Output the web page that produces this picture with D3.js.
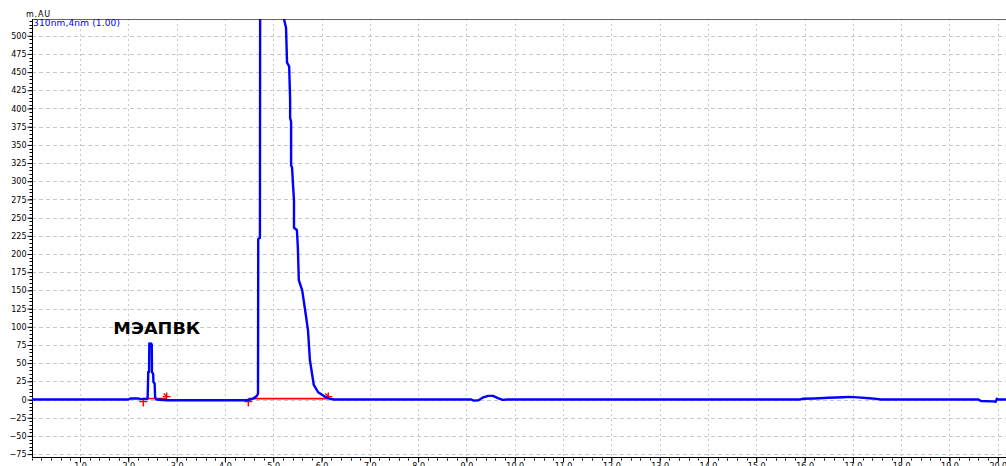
<!DOCTYPE html>
<html>
<head>
<meta charset="utf-8">
<script src="https://d3js.org/d3.v7.min.js"></script>
<style>
  body { margin: 0; background: #fff; }
  svg { display: block; }
  text { font-family: "DejaVu Sans", sans-serif; }
</style>
</head>
<body>
<svg id="chart" width="1006" height="466"></svg>
<script>
// chromatogram: time in min, signal in mAU
var retTime = [
  0.00, 2.00, 2.05, 2.20, 2.25, 2.40,
  2.413, 2.43, 2.435, 2.455, 2.47, 2.485, 2.49, 2.515, 2.52, 2.545, 2.555, 2.58,
  2.80, 4.45, 4.52, 4.59, 4.66, 4.685, 4.69, 4.725, 4.73, 4.76, 5.10, 5.20,
  5.223, 5.265, 5.286, 5.33, 5.35, 5.35, 5.37, 5.37, 5.39, 5.41,
  5.43, 5.43, 5.49, 5.51, 5.53, 5.60, 5.66, 5.72, 5.76, 5.84,
  5.93, 6.09, 6.18, 6.25,
  9.10, 9.15, 9.25, 9.35, 9.45, 9.55, 9.65, 9.75, 9.85,
  15.90, 15.96, 16.20, 16.50, 16.80, 16.92, 17.10, 17.40, 17.58,
  19.60, 19.65, 19.90, 19.96, 19.98, 20.02, 20.17
];
var signal = [
  0, 0, 1.5, 1.5, 0.5, 1,
  38, 38, 77, 72, 77, 76, 38, 35, 24, 22, 3, 0,
  -1, -1, 0, 1.5, 4.8, 8, 221, 222, 600, 900, 950, 600,
  523, 511, 463, 458, 412, 387, 382, 322, 319, 295,
  274, 236, 233, 209, 164, 150, 123, 95, 54, 20,
  10, 3, 1, 0,
  0, -1.5, -1, 3, 5, 5, 2, -0.5, 0,
  0, 1, 1.5, 2.5, 3.2, 3.6, 3, 1.5, 0,
  0, -2, -2.5, -3, 1, 0, 0
];

// integration baselines (red)
var integStart = [2.31, 4.485];
var integEnd = [2.795, 6.14];
var integLevel = 1.3;

var xTickValues = [1, 2, 3, 4, 5, 6, 7, 8, 9, 10, 11, 12, 13, 14, 15, 16, 17, 18, 19, 20];
var yTickValues = [-75, -50, -25, 0, 25, 50, 75, 100, 125, 150, 175, 200, 225, 250, 275, 300, 325, 350, 375, 400, 425, 450, 475, 500];

var peakName = "МЭАПВК";
var peakNameTime = 1.69;
var peakNameValue = 90;
var unitLabel = "m.AU";
var channelLabel = "310nm,4nm (1.00)";

var svg = d3.select("#chart");
var plotLeft = 32, plotRight = 1006, plotTop = 19, plotBottom = 457;

var x = d3.scaleLinear().domain([0, 20.17]).range([31.7, plotRight]);
var y = d3.scaleLinear().domain([-79, 523]).range([plotBottom, plotTop]);

svg.append("defs").append("clipPath").attr("id", "plot")
  .append("rect")
  .attr("x", plotLeft).attr("y", plotTop)
  .attr("width", plotRight - plotLeft).attr("height", plotBottom - plotTop);

//grid
var grid = svg.append("g").attr("stroke", "#c8c8c8").attr("stroke-width", 1);
grid.selectAll("line.h")
  .data(yTickValues)
  .enter().append("line")
  .attr("class", "h")
  .attr("x1", plotLeft).attr("x2", plotRight)
  .attr("y1", function(d){return Math.round(y(d)) + 0.5;})
  .attr("y2", function(d){return Math.round(y(d)) + 0.5;})
  .attr("stroke-dasharray", "4,3");
grid.selectAll("line.v")
  .data(xTickValues)
  .enter().append("line")
  .attr("class", "v")
  .attr("x1", function(d){return Math.round(x(d)) + 0.5;})
  .attr("x2", function(d){return Math.round(x(d)) + 0.5;})
  .attr("y1", plotTop).attr("y2", plotBottom)
  .attr("stroke-dasharray", "2,3");

//top frame
svg.append("line")
  .attr("x1", plotLeft).attr("x2", plotRight)
  .attr("y1", plotTop + 0.5).attr("y2", plotTop + 0.5)
  .attr("stroke", "#666");

//left axis with minor ticks every 5
var yMinor = d3.range(-75, 521, 5);
var yAxis = svg.append("g").attr("transform", "translate(" + (plotLeft + 0.5) + ",0)");
yAxis.selectAll("line.minor")
  .data(yMinor)
  .enter().append("line")
  .attr("x1", -3).attr("x2", 0)
  .attr("y1", function(d){return Math.round(y(d)) + 0.5;})
  .attr("y2", function(d){return Math.round(y(d)) + 0.5;})
  .attr("stroke", "#000");
yAxis.call(d3.axisLeft(y).tickValues(yTickValues).tickSize(5).tickPadding(1).tickFormat(d3.format("d")));
yAxis.select(".domain").attr("d", "M0," + plotTop + "V" + plotBottom);
yAxis.selectAll(".tick text").attr("font-size", 8).attr("font-family", "DejaVu Sans").attr("fill", "#000");

//bottom axis with minor ticks every 0.2
var xMinor = d3.range(0, 20.2, 0.2);
var xAxis = svg.append("g").attr("transform", "translate(0," + (plotBottom + 0.5) + ")");
xAxis.selectAll("line.minor")
  .data(xMinor)
  .enter().append("line")
  .attr("x1", function(d){return Math.round(x(d)) + 0.5;})
  .attr("x2", function(d){return Math.round(x(d)) + 0.5;})
  .attr("y1", 1).attr("y2", 3)
  .attr("stroke", "#000");
xAxis.call(d3.axisBottom(x).tickValues(xTickValues).tickSize(5).tickPadding(1).tickFormat(d3.format(".1f")));
xAxis.select(".domain").attr("d", "M" + plotLeft + ",0H" + plotRight);
xAxis.selectAll(".tick text").attr("font-size", 8).attr("font-family", "DejaVu Sans").attr("fill", "#000");

//integration baselines and markers
var integ = svg.append("g").attr("stroke", "#ff0000").attr("fill", "none");
integ.selectAll("line")
  .data(integStart)
  .enter().append("line")
  .attr("x1", function(d){return x(d);})
  .attr("x2", function(d, i){return x(integEnd[i]);})
  .attr("y1", y(integLevel)).attr("y2", y(integLevel))
  .attr("stroke-width", 1.6);
integ.selectAll("path.start")
  .data(integStart)
  .enter().append("path")
  .attr("d", function(d){
    var px = x(d), py = y(integLevel) + 3;
    return "M" + (px - 4) + "," + py + "H" + (px + 4) + "M" + px + "," + (py - 2) + "V" + (py + 5);
  })
  .attr("stroke-width", 1.4);
integ.selectAll("path.end")
  .data(integEnd)
  .enter().append("path")
  .attr("d", function(d){
    var px = x(d), py = y(integLevel) - 2;
    return "M" + (px - 4) + "," + py + "H" + (px + 4) + "M" + px + "," + (py - 4) + "V" + (py + 2) +
      "M" + (px - 3) + "," + (py - 3) + "L" + px + "," + py;
  })
  .attr("stroke-width", 1.4);

//trace
var line = d3.line()
  .x(function(d, i){return x(retTime[i]);})
  .y(function(d){return y(d);});

svg.append("path")
  .datum(signal)
  .attr("clip-path", "url(#plot)")
  .attr("d", line)
  .attr("fill", "none")
  .attr("stroke", "#0000ff")
  .attr("stroke-width", 2.4)
  .attr("stroke-linejoin", "round");

//labels
svg.append("text")
  .attr("x", x(peakNameTime)).attr("y", y(peakNameValue))
  .attr("font-family", "Liberation Sans, Arial, sans-serif")
  .attr("font-weight", "bold")
  .attr("font-size", 15.5)
  .attr("textLength", 87)
  .attr("lengthAdjust", "spacingAndGlyphs")
  .attr("fill", "#000")
  .text(peakName);

svg.append("text")
  .attr("x", 26).attr("y", 17)
  .attr("font-size", 8)
  .attr("textLength", 24)
  .attr("fill", "#000")
  .text(unitLabel);

svg.append("text")
  .attr("x", 33).attr("y", 26)
  .attr("font-size", 9)
  .attr("textLength", 87)
  .attr("fill", "#0000ff")
  .text(channelLabel);
</script>
</body>
</html>
